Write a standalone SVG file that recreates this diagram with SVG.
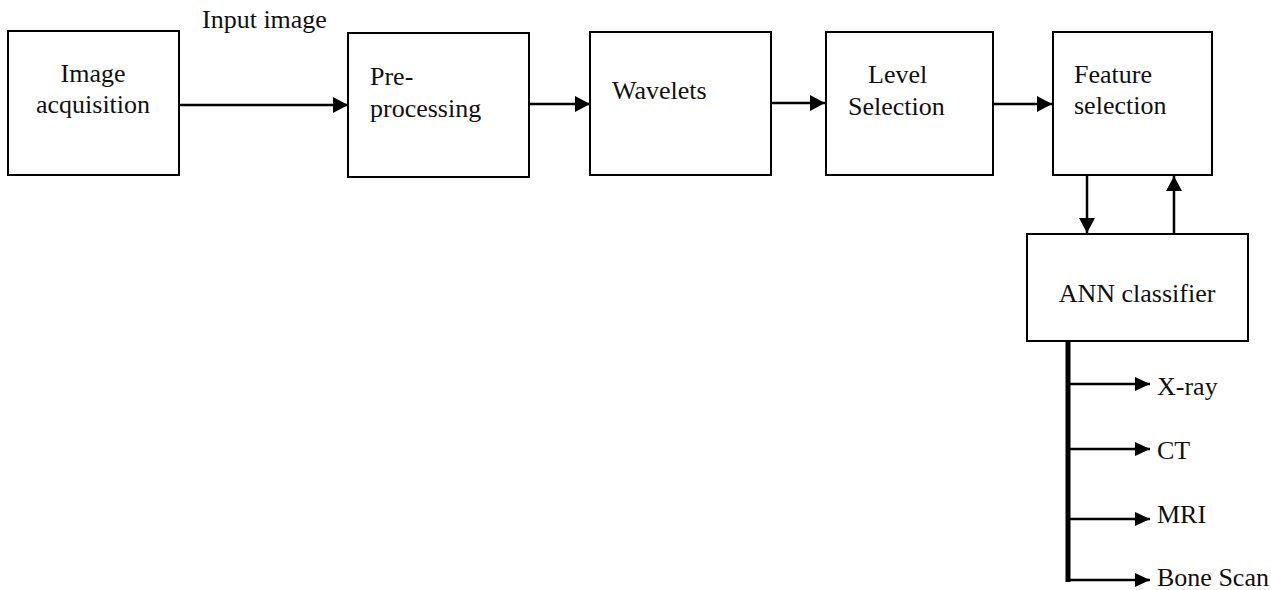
<svg xmlns="http://www.w3.org/2000/svg" width="1271" height="590" viewBox="0 0 1271 590">
<defs>
<marker id="ah" markerUnits="userSpaceOnUse" markerWidth="16" markerHeight="16" refX="15" refY="8" orient="auto">
<path d="M0,0 L15,8 L0,16 z" fill="#000"/>
</marker>
<marker id="ahs" markerUnits="userSpaceOnUse" markerWidth="16" markerHeight="14" refX="15" refY="7" orient="auto">
<path d="M0,0 L15,7 L0,14 z" fill="#000"/>
</marker>
<style>
.box{fill:#fff;stroke:#000;stroke-width:2}
text{font-family:'Liberation Serif','Times New Roman','DejaVu Serif',serif;font-size:26px;fill:#111}
.c{stroke:#000;stroke-width:2.5;fill:none}
</style>
</defs>
<rect width="1271" height="590" fill="#fff"/>
<g id="connectors">
<line class="c" x1="179" y1="105" x2="348" y2="105" marker-end="url(#ah)"/>
<line class="c" x1="529" y1="104" x2="590" y2="104" marker-end="url(#ah)"/>
<line class="c" x1="771" y1="103" x2="825" y2="103" marker-end="url(#ah)"/>
<line class="c" x1="993" y1="104" x2="1052" y2="104" marker-end="url(#ah)"/>
<line class="c" x1="1087" y1="175" x2="1087" y2="233" marker-end="url(#ah)"/>
<line class="c" x1="1174" y1="234" x2="1174" y2="176" marker-end="url(#ah)"/>
<line x1="1068" y1="341" x2="1068" y2="582" stroke="#000" stroke-width="5"/>
<line class="c" x1="1068" y1="384" x2="1150" y2="384" marker-end="url(#ahs)"/>
<line class="c" x1="1068" y1="449" x2="1150" y2="449" marker-end="url(#ahs)"/>
<line class="c" x1="1068" y1="519" x2="1150" y2="519" marker-end="url(#ahs)"/>
<line class="c" x1="1066" y1="580" x2="1150" y2="580" marker-end="url(#ahs)"/>
<text x="202" y="28" font-family="Liberation Serif, serif">Input image</text>
</g>
<g id="image-acquisition">
<rect class="box" x="8" y="31" width="171" height="144"/>
<text x="93" y="82" text-anchor="middle">Image</text>
<text x="93" y="113" text-anchor="middle">acquisition</text>
</g>
<g id="pre-processing">
<rect class="box" x="348" y="33" width="181" height="144"/>
<text x="370" y="85">Pre-</text>
<text x="370" y="117">processing</text>
</g>
<g id="wavelets">
<rect class="box" x="590" y="32" width="181" height="143"/>
<text x="612" y="99">Wavelets</text>
</g>
<g id="level-selection">
<rect class="box" x="826" y="32" width="167" height="143"/>
<text x="868" y="83">Level</text>
<text x="848" y="115">Selection</text>
</g>
<g id="feature-selection">
<rect class="box" x="1053" y="32" width="159" height="143"/>
<text x="1074" y="83">Feature</text>
<text x="1074" y="114">selection</text>
</g>
<g id="ann-classifier">
<rect class="box" x="1027" y="234" width="221" height="107"/>
<text x="1137" y="302" text-anchor="middle">ANN classifier</text>
</g>
<g id="outputs">
<text x="1157" y="395">X-ray</text>
<text x="1157" y="459">CT</text>
<text x="1157" y="523">MRI</text>
<text x="1157" y="586">Bone Scan</text>
</g>
</svg>
